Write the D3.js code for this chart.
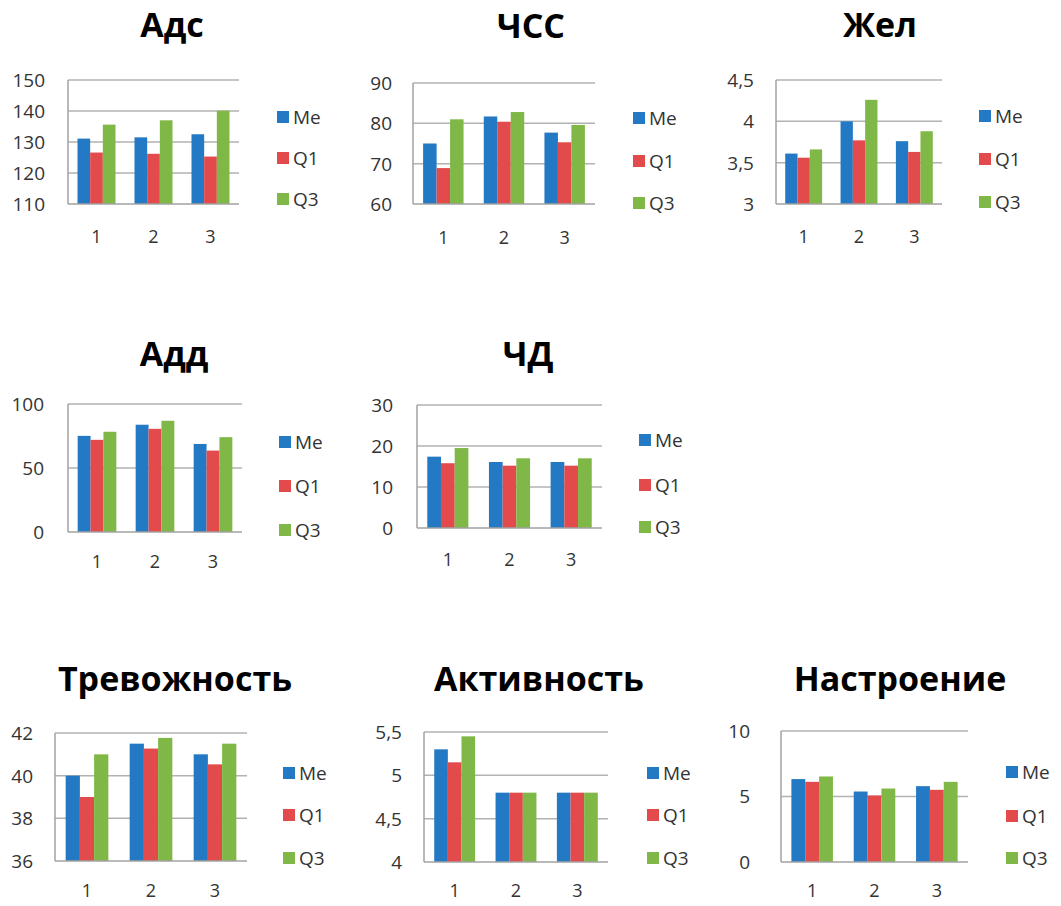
<!DOCTYPE html>
<html>
<head>
<meta charset="utf-8">
<script src="https://cdn.jsdelivr.net/npm/d3@7"></script>
<style>
  html, body { margin: 0; padding: 0; background: #ffffff; }
  svg { display: block; }
</style>
</head>
<body>
<svg id="chart" width="1061" height="906"></svg>
<script>
// Categories (measurement points) and series shared by every small chart
const categories = ["1", "2", "3"];
const seriesNames = ["Me", "Q1", "Q3"];
const seriesColors = ["#2379c3", "#e24a4b", "#7fb846"];

// Chart titles
const titles = ["Адс", "ЧСС", "Жел", "Адд", "ЧД", "Тревожность", "Активность", "Настроение"];

// Values per chart: one row per series (Me, Q1, Q3), one entry per category
const adsValues = [[131.1, 131.5, 132.5], [126.6, 126.2, 125.3], [135.6, 137.0, 140.1]];
const hrValues = [[75.0, 81.7, 77.7], [68.9, 80.4, 75.3], [81.0, 82.8, 79.6]];
const zhelValues = [[3.61, 4.00, 3.76], [3.56, 3.77, 3.63], [3.66, 4.26, 3.88]];
const addValues = [[75.1, 83.8, 68.8], [72.0, 80.6, 63.6], [78.3, 86.9, 74.1]];
const rrValues = [[17.4, 16.1, 16.1], [15.8, 15.2, 15.2], [19.5, 17.0, 17.0]];
const anxietyValues = [[40.0, 41.5, 41.0], [39.0, 41.27, 40.53], [41.0, 41.77, 41.5]];
const activityValues = [[5.3, 4.8, 4.8], [5.15, 4.8, 4.8], [5.45, 4.8, 4.8]];
const moodValues = [[6.33, 5.38, 5.79], [6.12, 5.08, 5.51], [6.53, 5.61, 6.12]];

// Y-axis ticks per chart
const adsTicks = [110, 120, 130, 140, 150];
const hrTicks = [60, 70, 80, 90];
const zhelTicks = [3, 3.5, 4, 4.5];
const addTicks = [0, 50, 100];
const rrTicks = [0, 10, 20, 30];
const anxietyTicks = [36, 38, 40, 42];
const activityTicks = [4, 4.5, 5, 5.5];
const moodTicks = [0, 5, 10];

const valueSets = [adsValues, hrValues, zhelValues, addValues, rrValues, anxietyValues, activityValues, moodValues];
const tickSets = [adsTicks, hrTicks, zhelTicks, addTicks, rrTicks, anxietyTicks, activityTicks, moodTicks];

// Panel geometry: plot frame, tick label edge, legend, title placement
const layout = [
  { left: 68, right: 239, top: 80, bottom: 204, tickX: 45, legX: 277, legY: [117, 158, 199], catY: 237, titleX: 172, titleY: 37 },
  { left: 413, right: 595, top: 83, bottom: 204, tickX: 392, legX: 633, legY: [118, 161, 203], catY: 238, titleX: 531, titleY: 38 },
  { left: 776, right: 942, top: 80, bottom: 204, tickX: 754, legX: 979, legY: [116, 159, 202], catY: 237, titleX: 880, titleY: 37 },
  { left: 68, right: 242, top: 404, bottom: 532, tickX: 44, legX: 279, legY: [442, 486, 530], catY: 562, titleX: 174, titleY: 366 },
  { left: 417, right: 602, top: 405, bottom: 528, tickX: 393, legX: 639, legY: [440, 485, 527], catY: 560, titleX: 528, titleY: 366 },
  { left: 55, right: 247, top: 733, bottom: 861, tickX: 33, legX: 283, legY: [773, 815, 858], catY: 891, titleX: 175, titleY: 691 },
  { left: 424, right: 608, top: 732, bottom: 862, tickX: 402, legX: 647, legY: [773, 815, 858], catY: 891, titleX: 539, titleY: 691 },
  { left: 781, right: 968, top: 731, bottom: 862, tickX: 750, legX: 1006, legY: [772, 816, 858], catY: 891, titleX: 900, titleY: 691 }
];

const ruLocale = d3.formatLocale({ decimal: ",", thousands: " ", grouping: [3], currency: ["", " ₽"] });
const fmt = ruLocale.format("~g");

const svg = d3.select("#chart");
const FONT = "'Open Sans', 'Noto Sans', sans-serif";
const gridColor = "#b2b2b2";
const axisColor = "#a2a2a2";
const textColor = "#333333";

layout.forEach((L, i) => {
  const values = valueSets[i];
  const ticks = tickSets[i];
  const g = svg.append("g");

  const y = d3.scaleLinear()
    .domain([d3.min(ticks), d3.max(ticks)])
    .range([L.bottom, L.top]);

  const x0 = d3.scaleBand()
    .domain(categories)
    .range([L.left, L.right])
    .paddingInner(1 / 3)
    .paddingOuter(1 / 6);

  const x1 = d3.scaleBand()
    .domain(seriesNames)
    .range([0, x0.bandwidth()]);

  // Horizontal gridlines (above baseline)
  g.selectAll("line.grid")
    .data(ticks.slice(1))
    .join("line")
    .attr("x1", L.left).attr("x2", L.right)
    .attr("y1", d => y(d)).attr("y2", d => y(d))
    .attr("stroke", gridColor).attr("stroke-width", 1.5);

  // Y tick labels
  g.selectAll("text.ytick")
    .data(ticks)
    .join("text")
    .attr("x", L.tickX)
    .attr("y", d => y(d))
    .attr("dy", "0.36em")
    .attr("text-anchor", "end")
    .attr("font-family", FONT)
    .attr("font-size", 19)
    .attr("fill", textColor)
    .text(d => fmt(d));

  // Bars
  const groups = g.selectAll("g.cat")
    .data(categories)
    .join("g")
    .attr("transform", d => `translate(${x0(d)},0)`);

  groups.selectAll("rect")
    .data((c, ci) => seriesNames.map((s, si) => ({ s, si, v: values[si][ci] })))
    .join("rect")
    .attr("x", d => x1(d.s))
    .attr("width", x1.bandwidth())
    .attr("y", d => y(d.v))
    .attr("height", d => y.range()[0] - y(d.v))
    .attr("fill", d => seriesColors[d.si]);

  // Axis lines
  g.append("line")
    .attr("x1", L.left).attr("x2", L.left)
    .attr("y1", L.top).attr("y2", L.bottom)
    .attr("stroke", axisColor).attr("stroke-width", 1.5);
  g.append("line")
    .attr("x1", L.left).attr("x2", L.right)
    .attr("y1", L.bottom).attr("y2", L.bottom)
    .attr("stroke", axisColor).attr("stroke-width", 1.5);

  // Category labels
  g.selectAll("text.xcat")
    .data(categories)
    .join("text")
    .attr("x", d => x0(d) + x0.bandwidth() / 2)
    .attr("y", L.catY)
    .attr("dy", "0.36em")
    .attr("text-anchor", "middle")
    .attr("font-family", FONT)
    .attr("font-size", 18)
    .attr("fill", textColor)
    .text(d => d);

  // Legend
  const leg = g.selectAll("g.leg")
    .data(seriesNames)
    .join("g")
    .attr("transform", (d, k) => `translate(${L.legX},${L.legY[k]})`);
  leg.append("rect")
    .attr("x", 0).attr("y", -6)
    .attr("width", 12).attr("height", 12)
    .attr("fill", (d, k) => seriesColors[k]);
  leg.append("text")
    .attr("x", 16)
    .attr("y", 0)
    .attr("dy", "0.36em")
    .attr("font-family", FONT)
    .attr("font-size", 19)
    .attr("fill", textColor)
    .text(d => d);

  // Title
  g.append("text")
    .attr("x", L.titleX)
    .attr("y", L.titleY)
    .attr("text-anchor", "middle")
    .attr("font-family", FONT)
    .attr("font-weight", "bold")
    .attr("font-size", 34)
    .attr("fill", "#000")
    .text(titles[i]);
});
</script>
</body>
</html>
